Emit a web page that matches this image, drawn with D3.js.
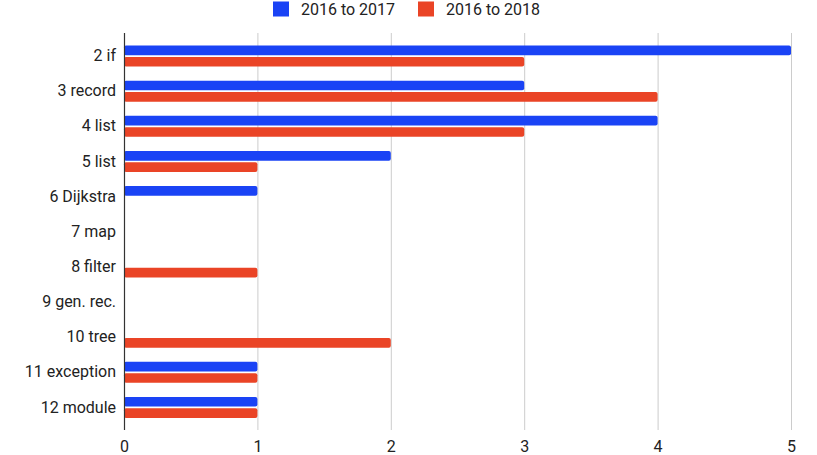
<!DOCTYPE html>
<html><head><meta charset="utf-8">
<script src="https://cdn.jsdelivr.net/npm/d3@7"></script>
<style>body{margin:0;background:#fff;}svg{display:block;font-family:Roboto,"Noto Sans",sans-serif;}</style>
</head><body>
<svg id="c" width="817" height="455"></svg>
<script>
const categories = ["2 if","3 record","4 list","5 list","6 Dijkstra","7 map","8 filter","9 gen. rec.","10 tree","11 exception","12 module"];
const seriesNames = ["2016 to 2017","2016 to 2018"];
const values2017 = [5,3,4,2,1,0,0,0,0,1,1];
const values2018 = [3,4,3,1,0,0,1,0,2,1,1];
const xTicks = [0,1,2,3,4,5];
const colors = ["#1a43f5","#ea4426"];

(function(){
const svg = d3.select("#c");
const mLeft = 124, mRight = 791, mTop = 33, mBottom = 430;
const fs = 16;
const x = d3.scaleLinear().domain([0,5]).range([mLeft,mRight]);
const y0 = d3.scaleBand().domain(categories).range([38.5,425]);
const bw = y0.bandwidth();
const y1 = d3.scaleBand().domain(seriesNames).range([bw/2-10.5, bw/2+10.5]).paddingInner(0.15);

// gridlines
svg.append("g").selectAll("line").data(xTicks.filter(d=>d>0)).join("line")
  .attr("x1",d=>x(d)+0.5).attr("x2",d=>x(d)+0.5).attr("y1",mTop).attr("y2",mBottom)
  .attr("stroke","#cccccc").attr("stroke-width",1);

// bars
const data = categories.map((c,i)=>({c, vals:[values2017[i],values2018[i]]}));
const g = svg.append("g");
data.forEach(d=>{
  d.vals.forEach((v,j)=>{
    if(v<=0) return;
    g.append("rect")
      .attr("x",x(0)).attr("y",y0(d.c)+y1(seriesNames[j]))
      .attr("width",x(v)-x(0)).attr("height",y1.bandwidth())
      .attr("rx",2).attr("fill",colors[j]);
  });
});

// axis line at 0
svg.append("line").attr("x1",x(0)+0.5).attr("x2",x(0)+0.5).attr("y1",mTop).attr("y2",mBottom)
  .attr("stroke","#333").attr("stroke-width",1.2);

// x tick labels
const xAxis = d3.axisBottom(x).tickValues(xTicks).tickSize(0).tickPadding(0).tickFormat(d3.format("d"));
const xg = svg.append("g").attr("transform",`translate(0,${mBottom})`).call(xAxis);
xg.select(".domain").remove();
xg.selectAll("text").attr("dy",null).attr("y",22).attr("font-size",fs).attr("fill","#222").attr("font-family","Roboto");

// y labels
const yAxis = d3.axisLeft(y0).tickSize(0).tickPadding(8);
const yg = svg.append("g").attr("transform",`translate(${mLeft},0)`).call(yAxis);
yg.select(".domain").remove();
yg.selectAll("text").attr("font-size",fs).attr("fill","#222").attr("font-family","Roboto");

// legend
const legX = [273, 418];
const lg = svg.append("g");
seriesNames.forEach((s,i)=>{
  lg.append("rect").attr("x",legX[i]).attr("y",1.5).attr("width",16).attr("height",15).attr("fill",colors[i]);
  lg.append("text").attr("x",legX[i]+28).attr("y",15).attr("font-size",fs).attr("fill","#222").attr("font-family","Roboto").text(s);
});
})();
</script>
</body></html>
